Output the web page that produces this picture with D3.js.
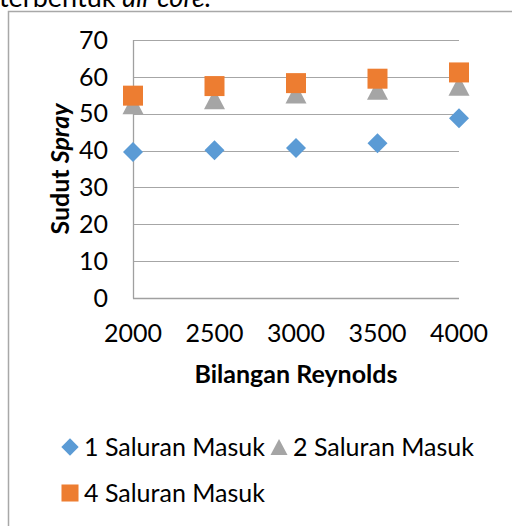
<!DOCTYPE html>
<html>
<head>
<meta charset="utf-8">
<script src="https://cdn.jsdelivr.net/npm/d3@7"></script>
<style>
  body { margin: 0; background: #fff; }
  svg { display: block; font-family: Lato, "Open Sans", sans-serif; }
</style>
</head>
<body>
<svg width="512" height="526"></svg>
<script>
const reynolds = [2000, 2500, 3000, 3500, 4000]
const satu = [39.6, 40.1, 40.7, 42.0, 48.8]
const dua = [52.6, 53.9, 55.5, 56.5, 57.6]
const empat = [54.9, 57.5, 58.3, 59.5, 61.2]
const yTicks = [0, 10, 20, 30, 40, 50, 60, 70]
const seriesNames = ["1 Saluran Masuk", "2 Saluran Masuk", "4 Saluran Masuk"]

const colors = ["#5b9bd5", "#a5a5a5", "#ed7d31"]
const fs = 25

const svg = d3.select("svg")

// bit of paragraph text above the chart (cut off in the source too)
const caption = svg.append("text").attr("x", -1).attr("y", 7)
  .attr("font-size", 27).attr("fill", "#000")
caption.append("tspan").text("terbentuk ")
caption.append("tspan").attr("font-style", "italic").text("air core.")

// chart frame
svg.append("rect")
  .attr("x", 8.5).attr("y", 11.5)
  .attr("width", 600).attr("height", 600)
  .attr("fill", "none").attr("stroke", "#a8a8a8").attr("stroke-width", 1.5)

let x = d3.scaleLinear().domain([2000, 4000]).range([133, 459])
let y = d3.scaleLinear().domain([0, 70]).range([298, 40])

// gridlines
svg.append("g").selectAll("line")
  .data(yTicks.slice(1))
  .enter().append("line")
  .attr("x1", 133).attr("x2", 459)
  .attr("y1", d => Math.round(y(d)) + .5).attr("y2", d => Math.round(y(d)) + .5)
  .attr("stroke", "#a6a6a6").attr("stroke-width", 1.2)

// axes lines
svg.append("line").attr("x1", 133.5).attr("x2", 133.5).attr("y1", y(70)).attr("y2", y(0) + .5)
  .attr("stroke", "#a0a0a0").attr("stroke-width", 1.3)
svg.append("line").attr("x1", 133).attr("x2", 459).attr("y1", y(0) + .5).attr("y2", y(0) + .5)
  .attr("stroke", "#a0a0a0").attr("stroke-width", 1.3)

// tick labels
svg.append("g").selectAll("text")
  .data(yTicks)
  .enter().append("text")
  .attr("x", 108).attr("y", d => y(d))
  .attr("dy", "0.35em")
  .attr("text-anchor", "end")
  .attr("font-size", fs)
  .text(d => d)

svg.append("g").selectAll("text")
  .data(reynolds)
  .enter().append("text")
  .attr("x", d => x(d)).attr("y", 333)
  .attr("dy", "0.35em")
  .attr("text-anchor", "middle")
  .attr("font-size", fs)
  .text(d => d)

// axis titles
svg.append("text")
  .attr("x", 296).attr("y", 374).attr("dy", "0.35em")
  .attr("text-anchor", "middle").attr("font-size", fs).attr("font-weight", "bold")
  .text("Bilangan Reynolds")

const yt = svg.append("text")
  .attr("transform", "translate(60,169) rotate(-90)")
  .attr("dy", "0.35em")
  .attr("text-anchor", "middle").attr("font-size", fs).attr("font-weight", "bold")
yt.append("tspan").text("Sudut ")
yt.append("tspan").attr("font-style", "italic").text("Spray")

// markers
const diamond = d3.symbol().type(d3.symbolSquare).size(200)
const square = d3.symbol().type(d3.symbolSquare).size(400)
const tri = "M0,-10L10.5,10L-10.5,10Z"

function marker(g, i) {
  if (i === 0) g.append("path").attr("d", diamond()).attr("transform", "rotate(45)")
  else if (i === 1) g.append("path").attr("d", tri)
  else g.append("path").attr("d", square())
  g.selectAll("path").attr("fill", colors[i])
}

const all = [satu, dua, empat]
// triangles first, then squares on top, diamonds last
;[1, 2, 0].forEach(i => {
  svg.append("g").selectAll("g")
    .data(all[i].map((v, k) => ({ r: reynolds[k], v: v })))
    .enter().append("g")
    .attr("transform", d => "translate(" + x(d.r) + "," + y(d.v) + ")")
    .each(function(){ marker(d3.select(this), i) })
})

// legend
const legendPos = [[70, 447], [279, 447], [70, 493]]
seriesNames.forEach((name, i) => {
  let g = svg.append("g").attr("transform", "translate(" + legendPos[i][0] + "," + legendPos[i][1] + ")")
  let m = g.append("g")
  if (i === 0) m.append("path").attr("d", d3.symbol().type(d3.symbolSquare).size(150)()).attr("transform", "rotate(45)")
  else if (i === 1) m.append("path").attr("d", "M0,-8L8.5,8L-8.5,8Z")
  else m.append("path").attr("d", d3.symbol().type(d3.symbolSquare).size(290)())
  m.selectAll("path").attr("fill", colors[i])
  g.append("text").attr("x", 14).attr("dy", "0.35em").attr("font-size", fs).text(name)
})
</script>
</body>
</html>
